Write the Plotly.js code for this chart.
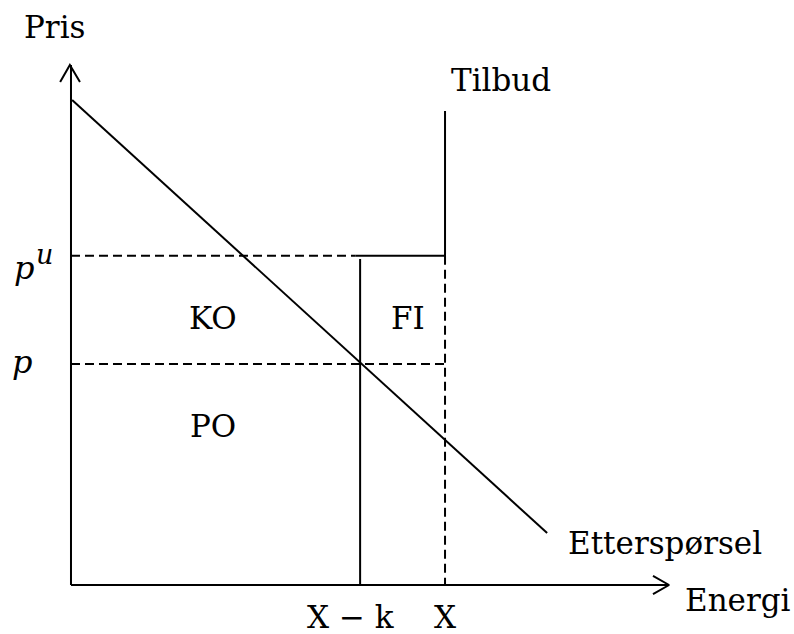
<!DOCTYPE html>
<html>
<head>
<meta charset="utf-8">
<script src="https://cdn.plot.ly/plotly-3.0.1.min.js"></script>
<style>html,body{margin:0;padding:0;background:#fff;}#chart{width:794px;height:634px;}</style>
</head>
<body>
<div id="chart"></div>
<script>
// Quantities (x) and prices (y) in diagram units
const qLabels = ["X − k", "X"];
const qValues = [7.73, 10];            // X-k, X
const pValues = [10, 14.9];            // p, p^u
const demandQ = [0.03, 12.73];
const demandP = [21.95, 2.35];
const supplyQ = [7.6, 10, 10];
const supplyP = [14.9, 14.9, 21.45];
const axisTopP = 23.53;
const axisEndQ = 15.99;
const yArrowQ = [-0.29, -0.03, 0.24];
const yArrowP = [22.76, 23.53, 22.76];
const xArrowQ = [15.56, 15.99, 15.56];
const xArrowP = [0.41, 0, -0.41];

const black = '#000';
const lw = 2;
const dashPat = '9px,5px';
const traces = [];
function line(x, y, dash) {
  traces.push({type:'scatter', mode:'lines', x:x, y:y, hoverinfo:'skip', showlegend:false,
    line:{color:black, width:lw, dash:dash||'solid'}});
}
// axes
line([0, 0], [0, axisTopP]);
line([0, axisEndQ], [0, 0]);
line(yArrowQ, yArrowP);
line(xArrowQ, xArrowP);
// demand
line(demandQ, demandP);
// supply
line(supplyQ, supplyP);
// X-k vertical
line([qValues[0], qValues[0]], [pValues[1] - 0.15, 0]);
// dashed lines
line([0, supplyQ[0]], [pValues[1], pValues[1]], dashPat);
line([0, qValues[1]], [pValues[0], pValues[0]], dashPat);
line([qValues[1], qValues[1]], [pValues[1], 0], dashPat);

const fs = 31;
const font = {family:'DejaVu Serif', size:fs, color:black};
function ann(text, x, y, extra) {
  return Object.assign({text:text, x:x, y:y, xref:'x', yref:'y', showarrow:false,
    xanchor:'center', yanchor:'middle', font:font}, extra||{});
}
const annotations = [
  ann('Pris', -0.43, 25.25),
  ann('Tilbud', 11.5, 22.85),
  ann('<i>p</i>', -1.25, 14.35, {font:{family:'DejaVu Serif', size:32, color:black}}),
  ann('<i>u</i>', -0.72, 14.95, {font:{family:'DejaVu Serif', size:27, color:black}}),
  ann('<i>p</i>', -1.3, 10.1, {font:{family:'DejaVu Serif', size:32, color:black}}),
  ann('KO', 3.8, 12.1),
  ann('FI', 9.0, 12.1),
  ann('PO', 3.8, 7.2),
  ann('Etterspørsel', 15.88, 1.9),
  ann('Energi', 17.83, -0.7),
  ann(qLabels[0], qValues[0] - 0.27, -1.45),
  ann(qLabels[1], qValues[1], -1.45)
];

const layout = {
  width:794, height:634,
  margin:{l:0, r:0, t:0, b:0},
  paper_bgcolor:'#fff', plot_bgcolor:'#fff',
  xaxis:{range:[-1.898, 19.33], visible:false, fixedrange:true},
  yaxis:{range:[-2.217, 26.47], visible:false, fixedrange:true},
  annotations:annotations,
  hovermode:false,
  showlegend:false
};
Plotly.newPlot('chart', traces, layout, {staticPlot:true});
</script>
</body>
</html>
